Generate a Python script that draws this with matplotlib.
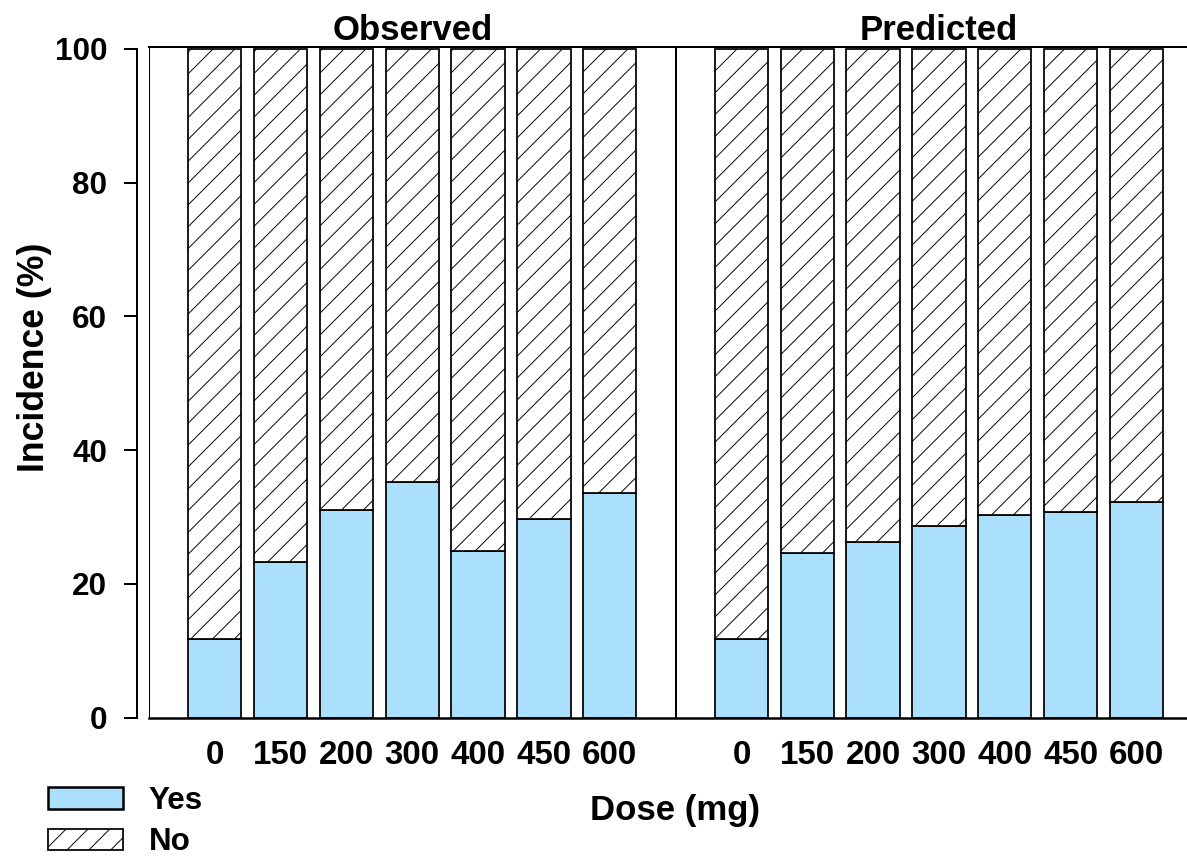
import matplotlib
matplotlib.use('Agg')
import matplotlib.pyplot as plt
import numpy as np

doses = ['0', '150', '200', '300', '400', '450', '600']
observed_yes = [11.8, 23.3, 31.1, 35.2, 24.9, 29.7, 33.6]
predicted_yes = [11.8, 24.6, 26.3, 28.7, 30.3, 30.8, 32.2]
groups = ['Observed', 'Predicted']

DPI = 131
W, H = 1187, 858


def px(v):
    '''pixels to points at the output dpi'''
    return v * 72 / DPI


plt.rcParams['font.family'] = ['Liberation Sans', 'DejaVu Sans']
plt.rcParams['font.weight'] = 'bold'
plt.rcParams['hatch.linewidth'] = px(0.95)
plt.rcParams['hatch.color'] = 'black'

fig = plt.figure(figsize=(W / DPI, H / DPI), dpi=DPI)
ax = fig.add_axes([149 / W, 140.3 / H, 1053.3 / W, 671 / H])

# observed bars sit at 1..7, predicted at 9..15, panel divider at 8
pos = np.concatenate([np.arange(1, 8), np.arange(9, 16)])
yes = np.array(observed_yes + predicted_yes)
no = 100 - yes

yes_bars = ax.bar(pos, yes, 0.81, color='#aae0fc', edgecolor='black',
                  linewidth=px(1.75), label='Yes')
no_bars = ax.bar(pos, no, 0.81, bottom=yes, color='white', edgecolor='black',
                 linewidth=px(1.75), hatch='//', label='No')

ax.set_xlim(0, 16)
ax.set_ylim(0, 100.3)
ax.axvline(0, color='black', linewidth=px(2))
ax.axvline(8, color='black', linewidth=px(2))

ax.spines['right'].set_visible(False)
ax.spines['top'].set_linewidth(px(2))
ax.spines['bottom'].set_linewidth(px(2.5))
ax.spines['left'].set_position(('outward', px(12.3)))
ax.spines['left'].set_bounds(0, 100)
ax.spines['left'].set_linewidth(px(2))

ax.set_yticks([0, 20, 40, 60, 80, 100])
ax.tick_params(axis='y', length=px(13), width=px(2), pad=px(16.6),
               labelsize=px(31.4))
ax.set_xticks(pos)
ax.set_xticklabels(doses * 2)
ax.tick_params(axis='x', length=0, pad=px(22), labelsize=px(33.2))

for i, name in enumerate(groups):
    ax.text(4 + 8 * i, 1.01, name, transform=ax.get_xaxis_transform(),
            ha='center', va='baseline', fontsize=px(34.8), fontweight='bold')

fig.text(35 / W, 1 - 357 / H, 'Incidence (%)', rotation=90,
         ha='center', va='center', fontsize=px(35.6), fontweight='bold')
fig.text(675.5 / W, 1 - 820 / H, 'Dose (mg)', ha='center',
         va='baseline', fontsize=px(34.8), fontweight='bold')

leg = fig.legend(handles=[yes_bars, no_bars], loc='upper left',
                 bbox_to_anchor=(48 / W, 1 - 786 / H), frameon=False,
                 borderpad=0, borderaxespad=0, fontsize=px(31.4),
                 handlelength=2.4, handleheight=0.68, handletextpad=0.8,
                 labelspacing=0.36)
leg.legend_handles[0].set_linewidth(px(2.5))

fig.savefig('out.png', dpi=DPI)
